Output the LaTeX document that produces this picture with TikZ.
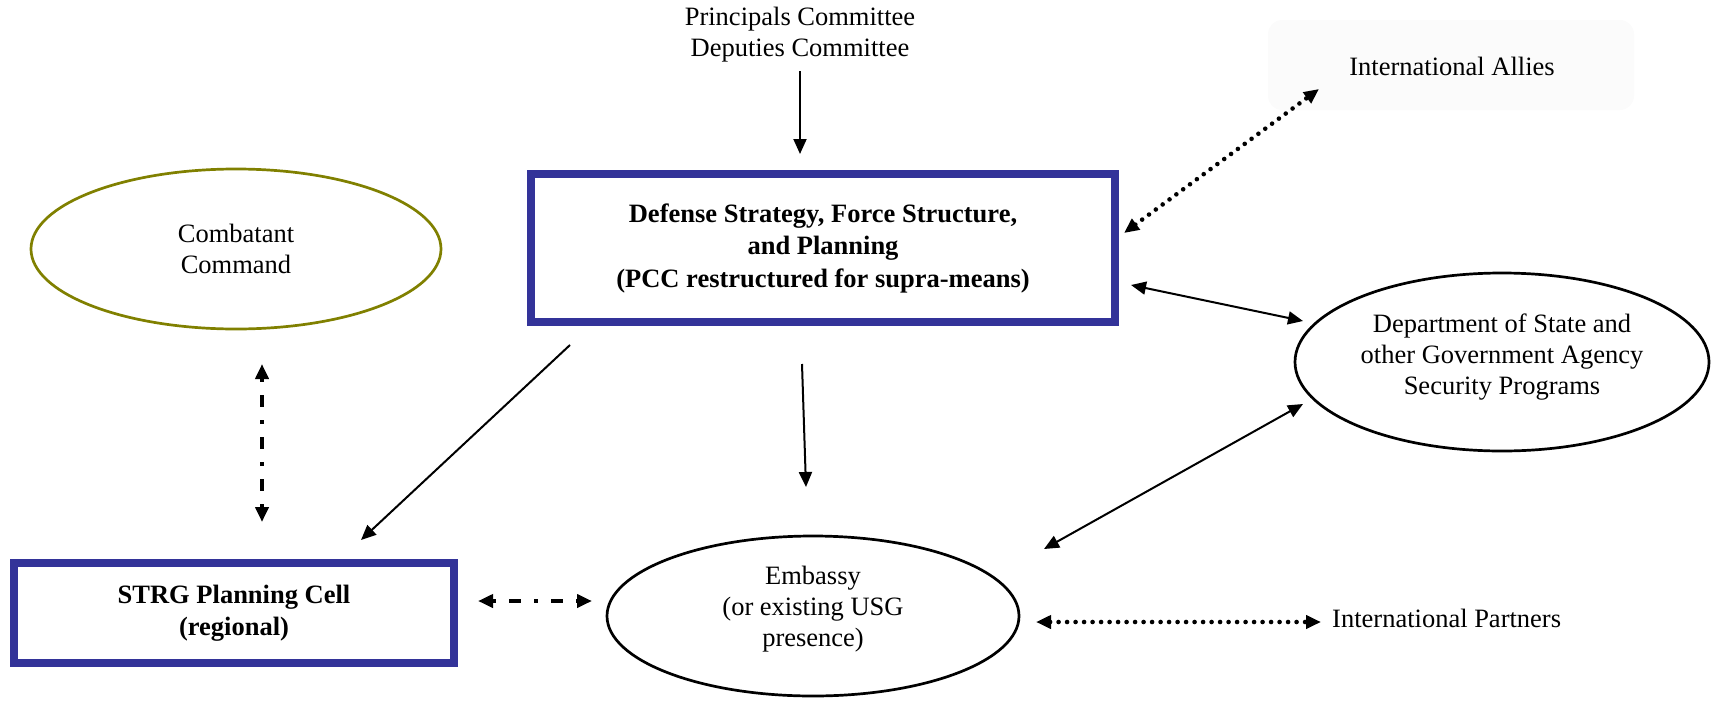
\documentclass[tikz,border=0pt]{standalone}
\usepackage{fontspec}
\setmainfont{Liberation Serif}
\usetikzlibrary{shapes.geometric,arrows.meta}
\definecolor{boxblue}{HTML}{333399}
\definecolor{olivec}{HTML}{808000}
\definecolor{allyfill}{HTML}{FBFBFB}
\tikzset{
  txt/.style={align=center,font=\fontsize{26.5}{31}\selectfont,inner sep=0pt},
  bluebox/.style={draw=boxblue,line width=8pt,align=center,font=\fontsize{26.5}{32.5}\selectfont\bfseries,inner sep=0pt},
  oval/.style={ellipse,draw,line width=2.7pt,inner sep=0pt,align=center,font=\fontsize{26.5}{31}\selectfont},
  tip/.style={-{Triangle[length=15pt,width=13pt]}},
  tips/.style={{Triangle[length=15pt,width=13pt]}-{Triangle[length=15pt,width=13pt]}},
  solidarr/.style={line width=2pt},
  dotarr/.style={line width=4.6pt,line cap=round,dash pattern=on 0pt off 8.5pt},
  dasharr/.style={line width=3.8pt,dash pattern=on 4pt off 13pt on 12pt off 13pt},
}
\begin{document}
\begin{tikzpicture}[x=1pt,y=-1pt]
\useasboundingbox (0,0) rectangle (1715,704);
% nodes
\node[txt] (pc) at (800,35) {Principals Committee\\Deputies Committee};
\node[bluebox,minimum width=584pt,minimum height=148pt] (main) at (823,248) {Defense Strategy, Force Structure,\\and Planning\\(PCC restructured for supra-means)};
\node[oval,draw=olivec,minimum width=410pt,minimum height=160pt] (cc) at (236,249) {Combatant\\Command};
\node[bluebox,minimum width=440pt,minimum height=100pt] (strg) at (234,613) {STRG Planning Cell\\(regional)};
\node[oval,minimum width=412pt,minimum height=160pt] (emb) at (813,616) {};
\node[txt] (embt) at (813,609) {Embassy\\(or existing USG\\presence)};
\node[oval,minimum width=414pt,minimum height=178pt] (dos) at (1502,362) {};
\node[txt] (dost) at (1502,357) {Department of State and\\other Government Agency\\Security Programs};
\node[draw=none,fill=allyfill,rounded corners=14pt,minimum width=366pt,minimum height=90pt] (ally) at (1451,65) {};
\node[txt] (allyt) at (1452,66) {International Allies};
\node[txt,anchor=west] (part) at (1332,618) {International Partners};
% connector endpoints
\coordinate (a1) at (800,71);  \coordinate (a2) at (800,154);
\coordinate (b1) at (570,345); \coordinate (b2) at (361,540);
\coordinate (c1) at (802,364); \coordinate (c2) at (806,487);
\coordinate (d1) at (262,364); \coordinate (d2) at (262,522);
\coordinate (e1) at (478,601); \coordinate (e2) at (592,601);
\coordinate (f1) at (1124,233);\coordinate (f2) at (1319,89);
\coordinate (g1) at (1131,285);\coordinate (g2) at (1303,321);
\coordinate (h1) at (1303,404);\coordinate (h2) at (1044,549);
\coordinate (i1) at (1036,622);\coordinate (i2) at (1321,622);
% connectors
\draw[solidarr,tip] (a1) -- (a2);
\draw[solidarr,tip] (b1) -- (b2);
\draw[solidarr,tip] (c1) -- (c2);
\draw[dasharr,tips] (d1) -- (d2);
\draw[dasharr,tips] (e1) -- (e2);
\draw[dotarr,tips] (f1) -- (f2);
\draw[solidarr,tips] (g1) -- (g2);
\draw[solidarr,tips] (h1) -- (h2);
\draw[dotarr,tips] (i1) -- (i2);
\end{tikzpicture}
\end{document}
